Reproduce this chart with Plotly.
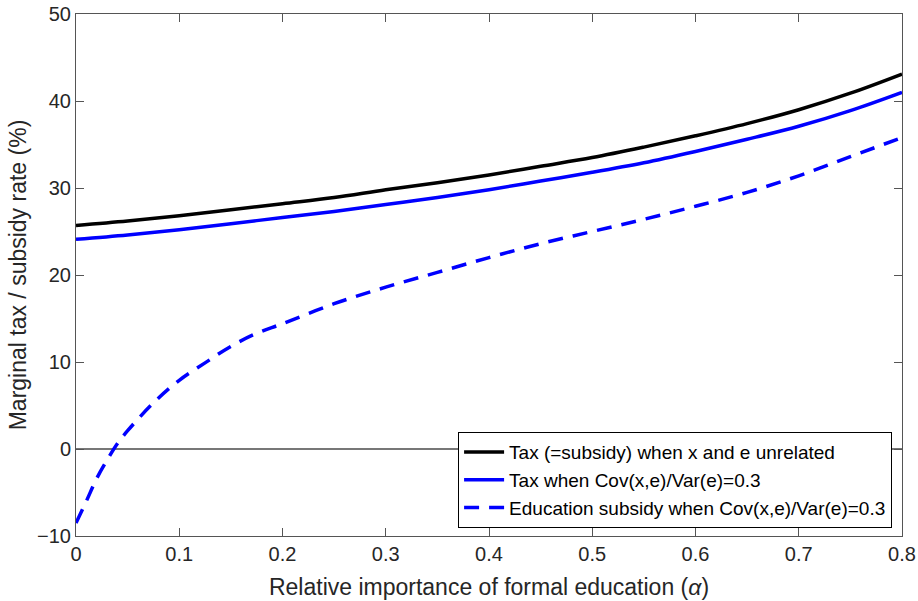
import plotly.graph_objects as go

# Relative importance of formal education (alpha)
alpha = [0.0, 0.05, 0.1, 0.15, 0.2, 0.25, 0.3, 0.35, 0.4, 0.45,
         0.5, 0.55, 0.6, 0.65, 0.7, 0.75, 0.8]

# Tax (=subsidy) when x and e unrelated (%)
tax_unrelated = [25.7, 26.2, 26.8, 27.5, 28.2, 28.9, 29.8, 30.6, 31.5, 32.5,
                 33.5, 34.7, 36.0, 37.4, 39.0, 40.9, 43.1]

# Tax when Cov(x,e)/Var(e)=0.3 (%)
tax_cov = [24.1, 24.6, 25.2, 25.9, 26.6, 27.3, 28.1, 28.9, 29.8, 30.8,
           31.8, 32.9, 34.2, 35.6, 37.1, 38.9, 41.0]

# Education subsidy when Cov(x,e)/Var(e)=0.3 (%), denser near alpha = 0
alpha_sub = [0.0, 0.01, 0.02, 0.03, 0.04, 0.05, 0.075, 0.1, 0.125, 0.15, 0.175,
             0.2, 0.25, 0.3, 0.35, 0.4, 0.45, 0.5, 0.55, 0.6, 0.65, 0.7, 0.75, 0.8]
subsidy_cov = [-8.5, -6.0, -3.4, -1.3, 0.6, 2.1, 5.3, 7.9, 9.9, 11.8, 13.3,
               14.4, 16.7, 18.6, 20.3, 22.0, 23.6, 25.0, 26.4, 27.9, 29.5, 31.4, 33.6, 35.8]

x_ticks = [0, 0.1, 0.2, 0.3, 0.4, 0.5, 0.6, 0.7, 0.8]
x_tick_labels = ["0", "0.1", "0.2", "0.3", "0.4", "0.5", "0.6", "0.7", "0.8"]
y_ticks = [-10, 0, 10, 20, 30, 40, 50]

FONT = "Liberation Sans, Arial, Helvetica, sans-serif"
AXIS_COLOR = "#262626"

fig = go.Figure()
fig.add_trace(go.Scatter(
    x=alpha, y=tax_unrelated, mode="lines", line_shape="spline",
    name="Tax (=subsidy) when x and e unrelated",
    line=dict(color="black", width=3.5),
))
fig.add_trace(go.Scatter(
    x=alpha, y=tax_cov, mode="lines", line_shape="spline",
    name="Tax when Cov(x,e)/Var(e)=0.3",
    line=dict(color="#0000ff", width=3.5),
))
fig.add_trace(go.Scatter(
    x=alpha_sub, y=subsidy_cov, mode="lines", line_shape="spline",
    name="Education subsidy when Cov(x,e)/Var(e)=0.3",
    line=dict(color="#0000ff", width=3.5, dash="15px,10px"),
))

axis_common = dict(
    showgrid=False, automargin=False,
    showline=True, linecolor="#555555", linewidth=1, mirror="ticks",
    ticks="inside", ticklen=8, tickwidth=1, tickcolor="#555555",
    tickfont=dict(family=FONT, size=20, color=AXIS_COLOR),
)

fig.update_xaxes(
    range=[0, 0.8], tickvals=x_ticks, ticktext=x_tick_labels,
    zeroline=False,
    title=dict(text="Relative importance of formal education (<i>α</i>)",
               font=dict(family=FONT, size=23, color=AXIS_COLOR), standoff=14),
    **axis_common,
)
fig.update_yaxes(
    range=[-10, 50], tickvals=y_ticks,
    zeroline=True, zerolinecolor="#777777", zerolinewidth=2,
    title=dict(text="Marginal tax / subsidy rate (%)",
               font=dict(family=FONT, size=23, color=AXIS_COLOR), standoff=4),
    **axis_common,
)

fig.update_layout(
    width=918, height=601,
    margin=dict(l=76, r=16, t=14, b=65),
    plot_bgcolor="white", paper_bgcolor="white",
    font=dict(family=FONT, color=AXIS_COLOR),
    legend=dict(
        x=0.988, y=0.015, xanchor="right", yanchor="bottom",
        bgcolor="white", bordercolor="black", borderwidth=1,
        font=dict(family=FONT, size=19, color="black"),
        tracegroupgap=0, itemwidth=40,
    ),
)

fig.write_html("out.html")
